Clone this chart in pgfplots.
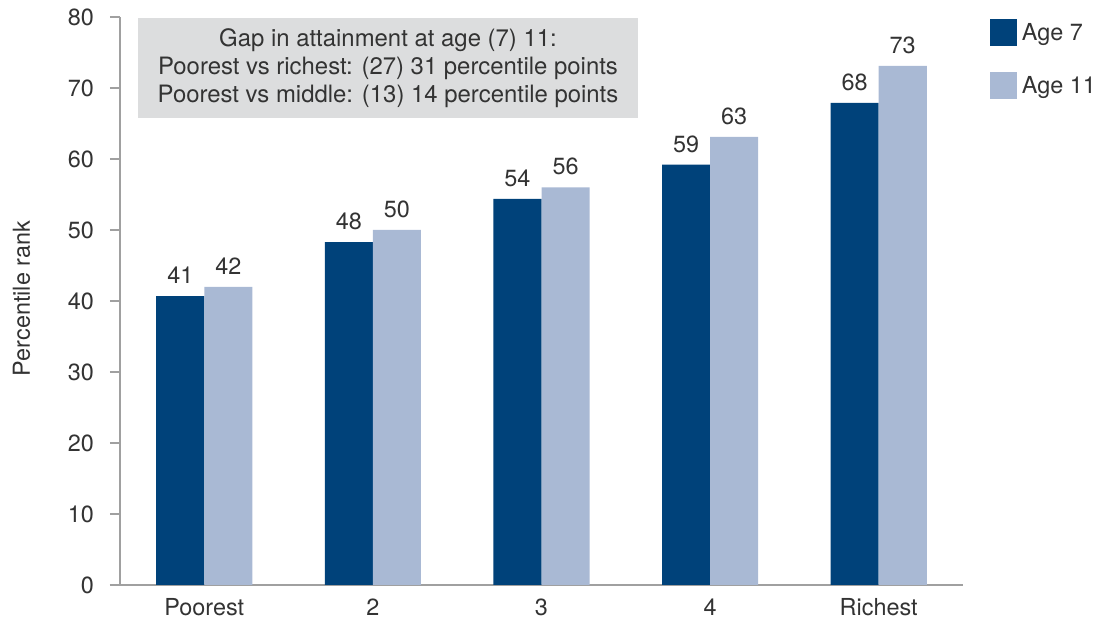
\documentclass[border=0pt]{standalone}
\usepackage{fontspec}
\setmainfont{TeX Gyre Heros}
\usepackage{pgfplots}
\pgfplotsset{compat=1.18}
\definecolor{darkbar}{HTML}{00427A}
\definecolor{lightbar}{HTML}{A9B9D4}
\definecolor{boxgray}{HTML}{DCDDDE}
\definecolor{axisgray}{HTML}{A0A0A0}
\definecolor{txt}{HTML}{333333}
\newcommand{\cf}{\fontsize{23.5}{28}\selectfont}
\begin{document}
\begin{tikzpicture}
\begin{axis}[
  at={(0,0)}, anchor=south west,
  scale only axis, width=843bp, height=568bp,
  ybar=0pt, bar width=0.285,
  xmin=-0.5, xmax=4.5, ymin=0, ymax=80,
  xtick={0,1,2,3,4}, xticklabels={Poorest,2,3,4,Richest},
  ytick={0,10,...,80},
  axis x line=bottom, axis y line=left,
  axis line style={-, draw=axisgray},
  x axis line style={line width=2.4bp, shorten <=-10bp},
  y axis line style={line width=1.6bp},
  xtick style={draw=none},
  ytick style={draw=axisgray, line width=1.6bp},
  tick align=outside, major tick length=10bp,
  /pgf/number format/assume math mode=true,
  ticklabel style={font=\cf, text=txt},
  yticklabel style={anchor=east, inner sep=0pt, xshift=-16bp},
  xticklabel style={anchor=base, inner sep=0pt, yshift=-20bp},
  ylabel={Percentile rank},
  ylabel style={font=\cf, text=txt, at={(rel axis cs:0,0.5)}, anchor=center, yshift=98.5bp, xshift=2.5bp},
  nodes near coords,
  nodes near coords style={font=\cf, text=txt, anchor=south, inner sep=0pt, yshift=12bp, /pgf/number format/fixed, /pgf/number format/precision=0},
  legend style={at={(1.032,0.9965)}, anchor=north west, draw=none, fill=none, inner sep=0pt, outer sep=0pt, row sep=26bp, font=\cf, text=txt, nodes={inner sep=0pt}, /tikz/every odd column/.append style={column sep=5bp}},
  legend cell align=left,
  legend image code/.code={\fill[#1] (0bp,-13.5bp) rectangle (27bp,13.5bp);},
]
\addplot[fill=darkbar, draw=none] coordinates {(0,40.7) (1,48.3) (2,54.4) (3,59.2) (4,67.9)};
\addplot[fill=lightbar, draw=none] coordinates {(0,42.0) (1,50.0) (2,56.0) (3,63.1) (4,73.1)};
\legend{Age 7, Age 11}
\end{axis}
\node[fill=boxgray, minimum width=500bp, minimum height=100bp, inner sep=0pt, align=center, font=\fontsize{24}{28}\selectfont, text=txt] at (268bp,517bp) {Gap in attainment at age (7) 11:\\Poorest vs richest: (27) 31 percentile points\\Poorest vs middle: (13) 14 percentile points};
\pgfresetboundingbox
\path (-120bp,-34bp) rectangle (979bp,585bp);
\end{tikzpicture}
\end{document}
